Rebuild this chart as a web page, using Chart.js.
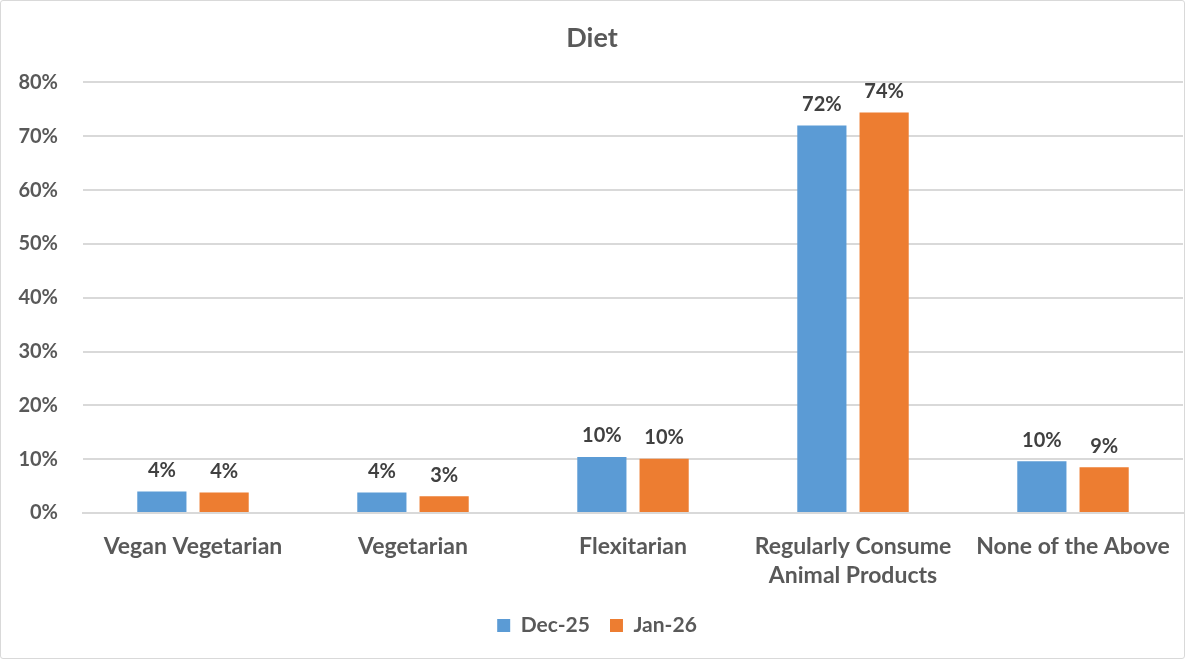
<!DOCTYPE html>
<html>
<head>
<meta charset="utf-8">
<script src="https://cdn.jsdelivr.net/npm/chart.js@4.4.1/dist/chart.umd.min.js"></script>
<style>
html,body{margin:0;padding:0;background:#fff;}
#wrap{position:relative;width:1185px;height:659px;box-sizing:border-box;border:1px solid #d9d9d9;border-radius:3px;background:#fff;overflow:hidden;}
canvas{display:block;}
</style>
</head>
<body>
<div id="wrap"><canvas id="c" width="1183" height="657"></canvas></div>
<script>
const categories = ['Vegan Vegetarian', 'Vegetarian', 'Flexitarian', ['Regularly Consume', 'Animal Products'], 'None of the Above'];
const dec25 = [4.0, 3.8, 10.4, 72.0, 9.6];
const jan26 = [3.8, 3.1, 10.1, 74.4, 8.5];
const seriesNames = ['Dec-25', 'Jan-26'];
const yTicks = [0, 10, 20, 30, 40, 50, 60, 70, 80];

const FONT = 'Lato, "Open Sans", "Noto Sans", sans-serif';

const valueLabels = {
  id: 'valueLabels',
  afterDatasetsDraw(chart) {
    const ctx = chart.ctx;
    ctx.save();
    ctx.font = 'bold 20px ' + FONT;
    ctx.fillStyle = '#404040';
    ctx.textAlign = 'center';
    ctx.textBaseline = 'bottom';
    chart.data.datasets.forEach((ds, i) => {
      const meta = chart.getDatasetMeta(i);
      meta.data.forEach((bar, j) => {
        ctx.fillText(Math.round(ds.data[j]) + '%', bar.x, bar.y - 11);
      });
    });
    ctx.restore();
  }
};

const legendShift = {
  id: 'legendShift',
  afterLayout(chart) {
    if (chart.legend) { chart.legend.left += 5; chart.legend.right += 5; }
  }
};

new Chart(document.getElementById('c'), {
  type: 'bar',
  data: {
    labels: categories,
    datasets: [
      { label: seriesNames[0], data: dec25, backgroundColor: '#5b9bd5', borderWidth: 0 },
      { label: seriesNames[1], data: jan26, backgroundColor: '#ed7d31', borderWidth: 0 }
    ]
  },
  options: {
    responsive: false,
    animation: false,
    devicePixelRatio: 1,
    maintainAspectRatio: false,
    layout: { padding: { left: 0, right: 1, top: 0, bottom: 12 } },
    datasets: { bar: { categoryPercentage: 0.566, barPercentage: 0.79 } },
    plugins: {
      title: {
        display: true,
        text: 'Diet',
        color: '#595959',
        font: { family: FONT, size: 27, weight: 'bold' },
        padding: { top: 21, bottom: 28 }
      },
      legend: {
        display: true,
        position: 'bottom',
        labels: {
          color: '#595959',
          font: { family: FONT, size: 21, weight: 'bold' },
          boxWidth: 13,
          boxHeight: 13,
          padding: 20
        }
      },
      tooltip: { enabled: false }
    },
    scales: {
      x: {
        grid: { display: false, drawTicks: false },
        border: { display: true, color: '#d9d9d9', width: 2 },
        ticks: {
          color: '#595959',
          font: { family: FONT, size: 23, weight: 'bold', lineHeight: 1.25 },
          padding: 19,
          maxRotation: 0,
          autoSkip: false
        },
        afterFit(scale) { scale.height = 82; scale.paddingLeft = 0; scale.paddingRight = 0; }
      },
      y: {
        min: 0,
        max: 80,
        afterBuildTicks(scale) { scale.ticks = yTicks.map(v => ({ value: v })); },
        grid: { color: '#d9d9d9', lineWidth: 2, drawTicks: false },
        border: { display: false },
        ticks: {
          color: '#595959',
          font: { family: FONT, size: 20, weight: 'bold' },
          padding: 25,
          callback: v => v + '%'
        },
        afterFit(scale) { scale.width = 82; }
      }
    }
  },
  plugins: [valueLabels, legendShift]
});
</script>
</body>
</html>
